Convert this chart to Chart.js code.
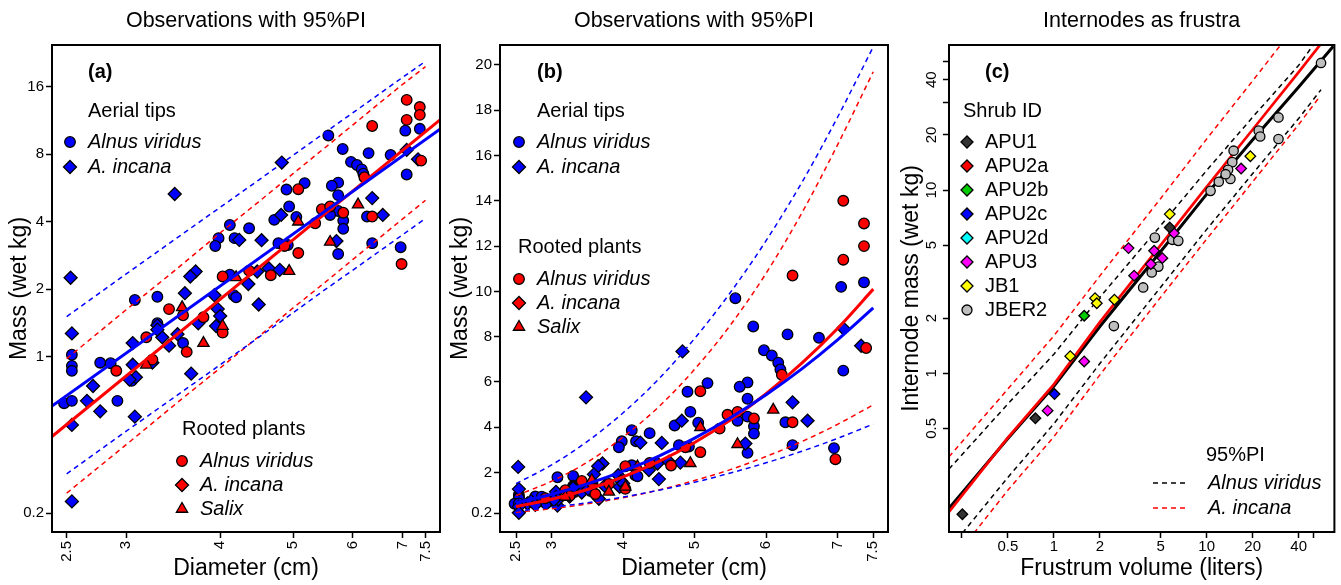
<!DOCTYPE html>
<html>
<head>
<meta charset="utf-8">
<script src="https://cdn.jsdelivr.net/npm/chart.js@4.4.0/dist/chart.umd.min.js"></script>
<style>
  body { margin: 0; background: #fff; width: 1341px; height: 585px; overflow: hidden; position: relative; }
  .panel { position: absolute; top: 0; height: 585px; }
</style>
</head>
<body>
<div class="panel" style="left:0;width:450px"><canvas id="chartA"></canvas></div>
<div class="panel" style="left:447px;width:451px"><canvas id="chartB"></canvas></div>
<div class="panel" style="left:897px;width:444px"><canvas id="chartC"></canvas></div>
<script>
// ==========================================
// Data
// ==========================================

// Aerial tips, Alnus viridus (blue circles): diameter (cm) / mass (wet kg)
const tipsAlnusD = [5.57, 5.82, 6.30, 6.74, 7.05, 7.37, 7.08, 5.97, 6.08, 6.17, 6.20, 5.74, 5.63, 5.74, 5.74, 5.60, 5.83, 5.83, 5.74, 6.27,
  6.37, 6.95, 5.18, 4.90, 4.94, 5.05, 4.72, 4.78, 4.92, 4.37, 4.12, 3.98, 4.18, 3.94, 4.12, 4.17, 4.20, 3.08, 3.30, 2.54,
  2.54, 2.54, 2.48, 2.54, 2.77, 2.86, 2.92, 3.30, 3.57, 3.05];
const tipsAlnusM = [9.7, 8.45, 8.1, 7.95, 10.2, 10.4, 6.5, 7.4, 7.17, 6.85, 6.55, 5.98, 5.79, 5.26, 4.47, 4.29, 4.05, 3.72, 2.87, 4.22,
  3.21, 3.08, 5.95, 5.57, 4.68, 4.2, 4.08, 3.21, 3.15, 3.74, 3.87, 3.38, 3.38, 3.12, 2.32, 1.88, 1.84, 1.79, 1.85, 1.02,
  0.91, 0.865, 0.62, 0.635, 0.94, 0.935, 0.635, 1.41, 1.15, 0.78];

// Aerial tips, A. incana (blue diamonds)
const tipsIncanaD = [2.53, 3.48, 4.83, 4.82, 4.24, 4.54, 6.37, 6.58, 5.71, 3.71, 3.65, 4.48, 4.64, 4.80, 4.36, 3.59, 3.93, 4.50, 7.08, 7.33,
  2.54, 2.66, 2.71, 2.77, 2.54, 3.08, 2.54, 3.06, 3.06, 3.09, 3.03, 3.30, 3.35, 3.42, 3.51, 3.25, 3.66, 3.74, 3.95, 3.97,
  4.00, 3.30];
const tipsIncanaM = [2.25, 5.32, 7.35, 4.29, 3.32, 3.31, 5.1, 4.29, 3.28, 2.40, 2.28, 2.40, 2.48, 2.44, 2.11, 1.92, 1.88, 1.71, 8.37, 7.6,
  1.27, 0.635, 0.74, 0.57, 0.496, 0.54, 0.226, 1.15, 0.92, 0.81, 0.79, 1.38, 1.22, 1.12, 1.26, 0.94, 0.84, 1.41, 1.37, 1.63,
  1.52, 1.32];

// Rooted plants (red)
const rootAlnusD = [7.08, 7.37, 7.37, 7.08, 6.37, 6.22, 5.08, 5.46, 5.60, 5.83, 6.37, 5.35, 4.87, 5.08, 4.37, 4.67, 4.03, 6.97,
  3.42, 3.57, 2.91, 3.19, 3.25, 3.61, 3.80, 4.03, 7.40];
const rootAlnusM = [14.0, 13.0, 12.0, 11.4, 10.7, 6.32, 5.59, 4.55, 4.68, 4.39, 4.22, 3.94, 3.12, 2.9, 2.42, 2.31, 2.28, 2.59,
  1.63, 1.53, 0.865, 1.22, 0.97, 1.05, 1.50, 1.28, 7.5];
const rootIncanaD = [];
const rootIncanaM = [];
const salixD = [5.08, 5.60, 6.10, 4.94, 4.20, 3.56, 3.80, 4.03, 3.19];
const salixM = [4.0, 3.25, 4.77, 2.41, 2.26, 1.66, 1.15, 1.37, 0.92];

// Fitted curves and 95% prediction intervals, panels (a) and (b)
const curveD = [2.5, 3, 3.5, 4, 4.5, 5, 5.5, 6, 6.5, 7, 7.5];
const tipsFit = [0.671, 1.04, 1.50, 2.06, 2.73, 3.52, 4.42, 5.44, 6.58, 7.86, 9.27];
const tipsUpper = [1.51, 2.34, 3.38, 4.64, 6.14, 7.92, 9.95, 12.24, 14.81, 17.69, 20.8];
const tipsLower = [0.30, 0.465, 0.67, 0.92, 1.22, 1.57, 1.98, 2.43, 2.94, 3.51, 4.14];
const rootFit = [0.498, 0.82, 1.25, 1.81, 2.49, 3.33, 4.32, 5.48, 6.83, 8.36, 10.1];
const rootUpper = [0.98, 1.62, 2.46, 3.57, 4.91, 6.56, 8.51, 10.80, 13.46, 16.47, 19.7];
const rootLower = [0.246, 0.405, 0.62, 0.89, 1.23, 1.65, 2.13, 2.71, 3.37, 4.13, 4.99];
// in (a) the fits run edge to edge
const edgeD = [2.39, 7.84];
const tipsFitEdge = [0.602, 10.35];
const rootFitEdge = [0.44, 11.4];

// Panel (c): internodes, frustum volume (liters) / mass (wet kg) by shrub
const apu1V = [0.757, 0.252, 5.73];
const apu1M = [0.568, 0.170, 6.25];
const apu2aV = [];
const apu2aM = [];
const apu2bV = [1.58];
const apu2bM = [2.06];
const apu2cV = [1.01];
const apu2cM = [0.77];
const apu2dV = [];
const apu2dM = [];
const apu3V = [16.8, 3.08, 4.53, 5.13, 4.31, 6.11, 3.35, 1.58, 0.91];
const apu3M = [13.1, 4.82, 4.66, 4.25, 3.94, 5.82, 3.41, 1.16, 0.625];
const jb1V = [19.3, 5.73, 2.49, 1.86, 1.91, 1.28];
const jb1M = [15.3, 7.39, 2.52, 2.57, 2.41, 1.24];
const jber2V = [56.0, 29.5, 21.9, 22.4, 29.5, 15.0, 14.7, 13.8, 14.3, 12.0, 10.6, 13.3, 4.58, 5.96, 6.52, 4.83, 4.37, 3.84, 2.47];
const jber2M = [49.4, 24.9, 21.1, 19.6, 19.0, 16.4, 14.2, 12.9, 11.5, 11.1, 9.9, 12.2, 5.5, 5.35, 5.28, 3.82, 3.55, 2.94, 1.81];

// Panel (c) fits and 95% PI
const alnusFitV = [0.206, 0.5, 1, 2, 5, 10, 20, 40, 67.4];
const alnusFitM = [0.183, 0.44, 0.85, 1.8, 4.62, 9.5, 18.8, 36.5, 61];
const incanaFitV = [0.206, 0.5, 1, 2, 5, 10, 20, 40, 55.2];
const incanaFitM = [0.175, 0.445, 0.87, 1.9, 5.0, 10.4, 21.4, 44, 62];
const alnusUpV = [0.206, 0.5, 1, 2, 5, 10, 20, 40, 49.9];
const alnusUpM = [0.30, 0.68, 1.27, 2.6, 6.4, 12.8, 25, 48, 62];
const alnusLowV = [0.252, 0.5, 1, 2, 5, 10, 20, 40, 56];
const alnusLowM = [0.134, 0.27, 0.53, 1.13, 2.95, 6.1, 12.3, 24.6, 35.3];
const incanaUpV = [0.206, 0.5, 1, 2, 5, 10, 20, 30.5];
const incanaUpM = [0.35, 0.82, 1.6, 3.4, 9.0, 19, 39.5, 62];
const incanaLowV = [0.30, 0.5, 1, 2, 5, 10, 20, 40, 55.2];
const incanaLowM = [0.134, 0.23, 0.45, 0.98, 2.6, 5.4, 11.1, 22.8, 32.5];

// Tick labels
const diamTicks = [2.5, 3, 4, 5, 6, 7, 7.5];
const massTicksA = [0.2, 1, 2, 4, 8, 16];
const massTicksB = [0.2, 2, 4, 6, 8, 10, 12, 14, 16, 18, 20];
const volTicks = [0.25, 0.5, 1, 2, 5, 10, 20, 40, 50];
const volLabels = [0.5, 1, 2, 5, 10, 20, 40];
const massTicksC = [0.5, 1, 2, 5, 10, 20, 30, 40, 50];
const massLabelsC = [0.5, 1, 2, 5, 10, 20, 40];

// ==========================================
// Helpers
// ==========================================

const FONT = '"Liberation Sans", Arial, Helvetica, sans-serif';
const BLUE = '#0000ff';
const RED = '#ff0000';

Chart.defaults.font.family = FONT;
Chart.defaults.color = '#000';
Chart.defaults.animation = false;

function pts(xs, ys) {
    return xs.map((x, i) => ({ x: x, y: ys[i] }));
}

function markers(xs, ys, style, fill, radius, order) {
    return {
        data: pts(xs, ys),
        pointStyle: style,
        pointRadius: radius,
        pointHoverRadius: radius,
        backgroundColor: fill,
        pointBackgroundColor: fill,
        borderColor: '#000',
        pointBorderColor: '#000',
        borderWidth: 1.3,
        order: order
    };
}

function curve(xs, ys, color, width, dashed, smooth, order) {
    return {
        data: pts(xs, ys),
        showLine: true,
        pointRadius: 0,
        pointHoverRadius: 0,
        borderColor: color,
        borderWidth: width,
        borderDash: dashed ? [5, 4] : [],
        tension: 0,
        cubicInterpolationMode: smooth ? 'monotone' : 'default',
        order: order === undefined ? 0 : order
    };
}

function fixedTicks(values) {
    return scale => { scale.ticks = values.map(v => ({ value: v })); };
}

function tickGrid() {
    return { drawOnChartArea: false, drawTicks: true, tickLength: 6, tickColor: '#000', tickWidth: 1.5 };
}

function drawMarker(ctx, style, x, y, r, fill) {
    ctx.fillStyle = fill;
    ctx.strokeStyle = '#000';
    ctx.lineWidth = 1.3;
    Chart.helpers.drawPoint(ctx, { pointStyle: style, radius: r, borderWidth: 1.3, rotation: 0 }, x, y);
}

// Box, panel title and hand-placed legends
const panelDecor = {
    id: 'panelDecor',
    afterDraw(chart, args, opts) {
        const ctx = chart.ctx;
        const a = chart.chartArea;
        ctx.save();
        ctx.lineWidth = 2;
        ctx.strokeStyle = '#000';
        ctx.strokeRect(a.left, a.top, a.right - a.left, a.bottom - a.top);

        ctx.fillStyle = '#000';
        ctx.textBaseline = 'middle';
        ctx.textAlign = 'center';
        ctx.font = '21.5px ' + FONT;
        ctx.fillText(opts.title, (a.left + a.right) / 2, 21);

        ctx.textAlign = 'left';
        (opts.items || []).forEach(it => {
            if (it.text) {
                ctx.fillStyle = '#000';
                ctx.font = (it.style || '') + ' 20px ' + FONT;
                ctx.fillText(it.text, it.x, it.y);
            } else if (it.marker) {
                drawMarker(ctx, it.marker, it.x, it.y, it.r, it.fill);
            } else if (it.dash) {
                ctx.strokeStyle = it.color;
                ctx.lineWidth = 1.5;
                ctx.setLineDash([5, 4]);
                ctx.beginPath();
                ctx.moveTo(it.x, it.y);
                ctx.lineTo(it.x + it.dash, it.y);
                ctx.stroke();
                ctx.setLineDash([]);
            }
        });
        ctx.restore();
    }
};

function xAxis(type, min, max, ticks, labelFn, rotated, fontSize, title) {
    return {
        type: type, min: min, max: max, bounds: 'data',
        afterBuildTicks: fixedTicks(ticks),
        afterFit: s => { s.height = 53; },
        ticks: {
            autoSkip: false, minRotation: rotated ? 90 : 0, maxRotation: rotated ? 90 : 0,
            padding: rotated ? 3 : 0, font: { size: fontSize }, color: '#000', callback: labelFn
        },
        grid: tickGrid(),
        border: { display: false },
        title: { display: true, text: title, font: { size: 23 }, color: '#000', padding: { top: 0, bottom: 3 } }
    };
}

function yAxis(type, min, max, ticks, labelFn, rotated, fontSize, title, width, titlePad) {
    return {
        type: type, min: min, max: max, bounds: 'data',
        afterBuildTicks: fixedTicks(ticks),
        afterFit: s => { s.width = width; },
        ticks: {
            autoSkip: false, minRotation: rotated ? 90 : 0, maxRotation: rotated ? 90 : 0,
            crossAlign: rotated ? 'center' : 'near',
            padding: rotated ? 1 : 2, font: { size: fontSize }, color: '#000', callback: labelFn
        },
        grid: tickGrid(),
        border: { display: false },
        title: { display: true, text: title, font: { size: 23 }, color: '#000', padding: { top: titlePad, bottom: 0 } }
    };
}

const plainLabel = v => String(v);

// ==========================================
// Panels (a) and (b): observations
// ==========================================

function observationSets(smooth, edgeFits) {
    return [
        curve(curveD, tipsUpper, BLUE, 1.5, true, smooth),
        curve(curveD, tipsLower, BLUE, 1.5, true, smooth),
        curve(curveD, rootUpper, RED, 1.5, true, smooth),
        curve(curveD, rootLower, RED, 1.5, true, smooth),
        edgeFits ? curve(edgeD, tipsFitEdge, BLUE, 3, false, false) : curve(curveD, tipsFit, BLUE, 3, false, smooth),
        edgeFits ? curve(edgeD, rootFitEdge, RED, 3, false, false) : curve(curveD, rootFit, RED, 3, false, smooth),
        markers(salixD, salixM, 'triangle', RED, 6.5, 1),
        markers(rootIncanaD, rootIncanaM, 'rectRot', RED, 6.5, 1),
        markers(rootAlnusD, rootAlnusM, 'circle', RED, 5.3, 1),
        markers(tipsIncanaD, tipsIncanaM, 'rectRot', BLUE, 6.5, 2),
        markers(tipsAlnusD, tipsAlnusM, 'circle', BLUE, 5.3, 2)
    ];
}

function obsLegend(tag, x0, mx, rootX, rootY, rootGap) {
    return [
        { text: tag, x: x0, y: 72, style: 'bold' },
        { text: 'Aerial tips', x: x0, y: 111 },
        { marker: 'circle', x: mx, y: 142, r: 5.3, fill: BLUE },
        { text: 'Alnus viridus', x: x0, y: 142, style: 'italic' },
        { marker: 'rectRot', x: mx, y: 167, r: 6.5, fill: BLUE },
        { text: 'A. incana', x: x0, y: 167, style: 'italic' },
        { text: 'Rooted plants', x: rootX, y: rootY },
        { marker: 'circle', x: rootX + rootGap.m, y: rootY + 32, r: 5.3, fill: RED },
        { text: 'Alnus viridus', x: rootX + rootGap.t, y: rootY + 32, style: 'italic' },
        { marker: 'rectRot', x: rootX + rootGap.m, y: rootY + 56, r: 6.5, fill: RED },
        { text: 'A. incana', x: rootX + rootGap.t, y: rootY + 56, style: 'italic' },
        { marker: 'triangle', x: rootX + rootGap.m, y: rootY + 80, r: 6.5, fill: RED },
        { text: 'Salix', x: rootX + rootGap.t, y: rootY + 80, style: 'italic' }
    ];
}

new Chart(document.getElementById('chartA'), {
    type: 'scatter',
    data: { datasets: observationSets(false, true) },
    options: {
        responsive: true,
        maintainAspectRatio: false,
        layout: { padding: { top: 45, right: 10, left: 0, bottom: 0 } },
        plugins: {
            legend: { display: false },
            tooltip: { enabled: false },
            panelDecor: { title: 'Observations with 95%PI', items: obsLegend('(a)', 88, 70, 182, 429, { m: 0, t: 18 }) }
        },
        scales: {
            x: xAxis('logarithmic', 2.39, 7.84, diamTicks, plainLabel, true, 15, 'Diameter (cm)'),
            y: yAxis('logarithmic', 0.165, 24.6, massTicksA, plainLabel, false, 15, 'Mass (wet kg)', 52, 6)
        }
    },
    plugins: [panelDecor]
});

new Chart(document.getElementById('chartB'), {
    type: 'scatter',
    data: { datasets: observationSets(true, false) },
    options: {
        responsive: true,
        maintainAspectRatio: false,
        layout: { padding: { top: 45, right: 10, left: 0, bottom: 0 } },
        plugins: {
            legend: { display: false },
            tooltip: { enabled: false },
            panelDecor: { title: 'Observations with 95%PI', items: obsLegend('(b)', 90, 72, 71, 247, { m: 1, t: 19 }) }
        },
        scales: {
            x: xAxis('linear', 2.276, 7.706, diamTicks, plainLabel, true, 15, 'Diameter (cm)'),
            y: yAxis('linear', -0.625, 20.88, massTicksB, plainLabel, false, 15, 'Mass (wet kg)', 53, 0)
        }
    },
    plugins: [panelDecor]
});

// ==========================================
// Panel (c): internodes as frusta
// ==========================================

const shrubs = [
    { id: 'APU1', v: apu1V, m: apu1M, fill: '#333333', style: 'rectRot' },
    { id: 'APU2a', v: apu2aV, m: apu2aM, fill: '#ff0000', style: 'rectRot' },
    { id: 'APU2b', v: apu2bV, m: apu2bM, fill: '#00cc00', style: 'rectRot' },
    { id: 'APU2c', v: apu2cV, m: apu2cM, fill: '#0000ff', style: 'rectRot' },
    { id: 'APU2d', v: apu2dV, m: apu2dM, fill: '#00ffff', style: 'rectRot' },
    { id: 'APU3', v: apu3V, m: apu3M, fill: '#ff00ff', style: 'rectRot' },
    { id: 'JB1', v: jb1V, m: jb1M, fill: '#ffff00', style: 'rectRot' },
    { id: 'JBER2', v: jber2V, m: jber2M, fill: '#bebebe', style: 'circle' }
];

const frustaSets = [
    curve(alnusUpV, alnusUpM, '#000', 1.5, true, false, 3),
    curve(alnusLowV, alnusLowM, '#000', 1.5, true, false, 3),
    curve(incanaUpV, incanaUpM, RED, 1.5, true, false, 3),
    curve(incanaLowV, incanaLowM, RED, 1.5, true, false, 3),
    curve(incanaFitV, incanaFitM, RED, 2.7, false, false, 2),
    curve(alnusFitV, alnusFitM, '#000', 3, false, false, 2)
].concat(shrubs.map(s => markers(s.v, s.m, s.style, s.fill, s.style === 'circle' ? 4.7 : 5.3, 0)));

const shrubLegend = [
    { text: '(c)', x: 88, y: 72, style: 'bold' },
    { text: 'Shrub ID', x: 66, y: 111 }
];
shrubs.forEach((s, i) => {
    const y = 142 + i * 24;
    shrubLegend.push({ marker: s.style, x: 70, y: y, r: s.style === 'circle' ? 5 : 6, fill: s.fill });
    shrubLegend.push({ text: s.id, x: 88, y: y });
});
shrubLegend.push(
    { text: '95%PI', x: 309, y: 455 },
    { dash: 32, x: 256, y: 483, color: '#000' },
    { text: 'Alnus viridus', x: 311, y: 483, style: 'italic' },
    { dash: 32, x: 256, y: 508, color: RED },
    { text: 'A. incana', x: 311, y: 508, style: 'italic' }
);

new Chart(document.getElementById('chartC'), {
    type: 'scatter',
    data: { datasets: frustaSets },
    options: {
        responsive: true,
        maintainAspectRatio: false,
        layout: { padding: { top: 45, right: 4, left: 0, bottom: 0 } },
        plugins: {
            legend: { display: false },
            tooltip: { enabled: false },
            panelDecor: { title: 'Internodes as frustra', items: shrubLegend }
        },
        scales: {
            x: xAxis('logarithmic', 0.206, 68.5, volTicks, v => volLabels.includes(v) ? String(v) : '', false, 15, 'Frustrum volume (liters)'),
            y: yAxis('logarithmic', 0.136, 61.9, massTicksC, v => massLabelsC.includes(v) ? String(v) : '', true, 15, 'Internode mass (wet kg)', 52, 1)
        }
    },
    plugins: [panelDecor]
});
</script>
</body>
</html>
